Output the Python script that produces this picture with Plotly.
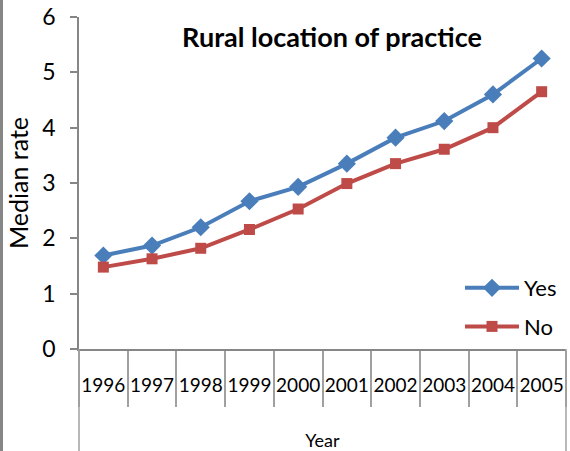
import plotly.graph_objects as go

years = ["1996", "1997", "1998", "1999", "2000", "2001", "2002", "2003", "2004", "2005"]
yes_vals = [1.69, 1.87, 2.2, 2.67, 2.93, 3.35, 3.82, 4.12, 4.6, 5.25]
no_vals = [1.48, 1.63, 1.82, 2.16, 2.53, 2.99, 3.35, 3.61, 4.0, 4.65]

FONT = "Lato, 'Open Sans', sans-serif"
W, H = 570, 451
ml, mr, mt, mb = 79, 4, 17, 102
pw = W - ml - mr
ph = H - mt - mb

fig = go.Figure()
fig.add_trace(go.Scatter(x=years, y=yes_vals, name="Yes", mode="lines+markers",
                         legendgroup="yes",
                         line=dict(color="#4A7EBB", width=4),
                         marker=dict(symbol="diamond", size=14, color="#4A7EBB")))
fig.add_trace(go.Scatter(x=years, y=no_vals, name="No", mode="lines+markers",
                         legendgroup="no",
                         line=dict(color="#BE4B48", width=4),
                         marker=dict(symbol="square", size=11, color="#BE4B48")))

fig.update_layout(
    width=W, height=H,
    margin=dict(l=ml, r=mr, t=mt, b=mb, autoexpand=False),
    paper_bgcolor="white", plot_bgcolor="white",
    font=dict(family=FONT, color="black"),
    title=dict(text="<b>Rural location of practice</b>", x=332 / W, xanchor="center",
               y=1 - 38 / H, yanchor="middle", font=dict(size=27, color="black")),
    showlegend=True,
    legend=dict(x=(460 - ml) / pw, y=1 - (267 - mt) / ph, xanchor="left", yanchor="top",
                bgcolor="rgba(0,0,0,0)", font=dict(size=22), tracegroupgap=7,
                itemwidth=54),
    xaxis=dict(type="category", showgrid=False, zeroline=False, automargin=False,
               showline=True, linecolor="#868686", linewidth=1.5,
               ticks="outside", tickson="boundaries", ticklen=56, tickcolor="#A0A0A0",
               tickwidth=1.5, tickfont=dict(size=19), ticklabelstandoff=18, tickangle=0,
               range=[-0.5, 9.5],
               title=dict(text="Year", font=dict(size=18), standoff=57)),
    yaxis=dict(range=[0, 6], dtick=1, showgrid=False, zeroline=False, automargin=False,
               showline=True, linecolor="#868686", linewidth=1.5,
               ticks="outside", ticklen=7, tickcolor="#868686", tickwidth=1.5,
               tickfont=dict(size=23), ticklabelstandoff=10,
               title=dict(text="Median rate", font=dict(size=25), standoff=7)),
)

# long boundary lines at the edges of the category axis
for xp in (0, 1):
    fig.add_shape(type="line", xref="paper", yref="paper", x0=xp, x1=xp,
                  y0=0, y1=-mb / ph, line=dict(color="#A0A0A0", width=1.5))
# chart border on the left
fig.add_shape(type="line", xref="paper", yref="paper", x0=-(ml - 1.5) / pw, x1=-(ml - 1.5) / pw,
              y0=-mb / ph, y1=1 + mt / ph, line=dict(color="#868686", width=3))

fig.write_html("out.html", config={"displayModeBar": False},
               post_script="document.body.style.margin='0';")
